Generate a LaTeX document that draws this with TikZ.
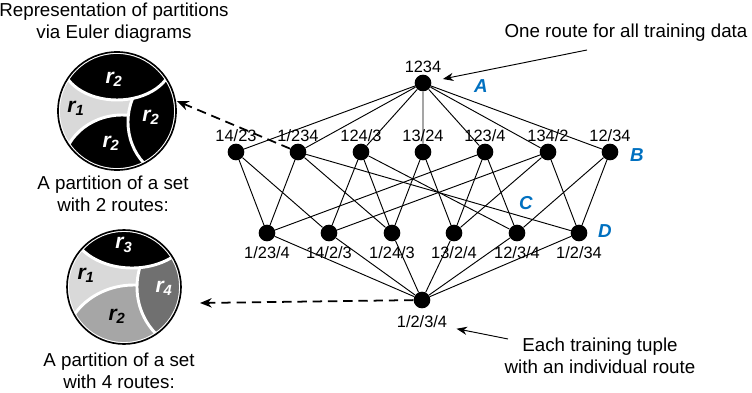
\documentclass[tikz,border=0pt]{standalone}
\usepackage{fontspec}
\setmainfont{Liberation Sans}
\usetikzlibrary{arrows.meta}
\definecolor{letterblue}{RGB}{0,112,192}
\definecolor{lightregion}{RGB}{217,217,217}
\definecolor{midregion}{RGB}{166,166,166}
\definecolor{darkregion}{RGB}{112,112,112}
\newcommand{\rlab}[1]{\bfseries\itshape r\textsubscript{#1}}

\begin{document}
\begin{tikzpicture}
		[	x=0.03cm,y=-0.03cm,
		dot/.style={circle,fill=black,minimum size=0.5cm,inner sep=0pt},
		part/.style={font=\fontsize{14}{16}\selectfont,inner sep=1pt},
		note/.style={font=\fontsize{16}{18.7}\selectfont,align=center},
		letter/.style={font=\fontsize{16}{18}\selectfont\bfseries\itshape,text=letterblue},
		edge/.style={line width=0.8pt},
		pointer/.style={-{Stealth[length=9pt,width=7pt]},line width=0.8pt},
		dashpointer/.style={-{Stealth[length=10pt,width=8pt]},line width=1.5pt,dash pattern=on 8pt off 5pt},
		region/.style={draw=white,line width=2.5pt},
		euler/.style={circle,draw=black,line width=1.4pt,inner sep=0pt},
		rname/.style={font=\fontsize{18}{20}\selectfont}
		]
\useasboundingbox (0,0) rectangle (752,393);

\node[note] (title) at (114,23) {Representation of partitions\\via Euler diagrams};
\node[note] (caption1) at (113,194) {A partition of a set\\with 2 routes:};
\node[note] (caption2) at (119,371) {A partition of a set\\with 4 routes:};
\node[note] (onenote) at (626,33) {One route for all training data};
\node[note] (eachnote) at (600,356) {Each training tuple\\with an individual route};

\begin{scope}[shift={(117,111)}]
	\clip (0,0) circle [radius=59];
	\fill[lightregion] (0,0) circle [radius=59];
	\filldraw[region,fill=black] (5,59) ellipse [x radius=60,y radius=55];
	\filldraw[region,fill=black] (65,11) ellipse [x radius=54,y radius=58];
	\filldraw[region,fill=black] (0,-49) ellipse [x radius=55,y radius=38];
	\draw[white,line width=1.5pt] (0,0) circle [radius=58];
\end{scope}
\node[euler,minimum size=3.54cm] (euler1) at (117,111) {};
\node[rname,text=white] (r2top) at (114,79) {\rlab{2}};
\node[rname] (r1left) at (76,108) {\rlab{1}};
\node[rname,text=white] (r2right) at (151,117) {\rlab{2}};
\node[rname,text=white] (r2low) at (111,143) {\rlab{2}};

\begin{scope}[shift={(124,287)}]
	\clip (0,0) circle [radius=57];
	\fill[lightregion] (0,0) circle [radius=57];
	\filldraw[region,fill=midregion] (10,60) ellipse [x radius=70,y radius=62];
	\filldraw[region,fill=darkregion] (75,0) ellipse [x radius=62,y radius=65];
	\filldraw[region,fill=black] (8,-64) ellipse [x radius=62,y radius=45];
	\draw[white,line width=1.5pt] (0,0) circle [radius=56];
\end{scope}
\node[euler,minimum size=3.42cm] (euler2) at (124,287) {};
\node[rname,text=white] (r3top) at (124,245) {\rlab{3}};
\node[rname] (r1mid) at (86,275) {\rlab{1}};
\node[rname,text=white] (r4right) at (164,288) {\rlab{4}};
\node[rname] (r2low2) at (117,316) {\rlab{2}};

\node[dot,label={[part]above:1234}] (top) at (423,83) {};

\node[dot,label={[part]above:14/23}] (m1) at (236,152) {};
\node[dot,label={[part]above:1/234}] (m2) at (298,152) {};
\node[dot,label={[part]above:124/3}] (m3) at (361,152) {};
\node[dot,label={[part]above:13/24}] (m4) at (423,152) {};
\node[dot,label={[part]above:123/4}] (m5) at (485,152) {};
\node[dot,label={[part]above:134/2}] (m6) at (548,152) {};
\node[dot,label={[part]above:12/34}] (m7) at (610,152) {};

\node[dot,label={[part,label distance=3pt]below:1/23/4}] (l1) at (267,233) {};
\node[dot,label={[part,label distance=3pt]below:14/2/3}] (l2) at (329,233) {};
\node[dot,label={[part,label distance=3pt]below:1/24/3}] (l3) at (392,233) {};
\node[dot,label={[part,label distance=3pt]below:13/2/4}] (l4) at (454,233) {};
\node[dot,label={[part,label distance=3pt]below:12/3/4}] (l5) at (517,233) {};
\node[dot,label={[part,label distance=3pt]below:1/2/34}] (l6) at (579,233) {};

\node[dot,label={[part,label distance=5pt,name=bottomlab]below:1/2/3/4}] (bottom) at (422,300) {};

\draw[edge] (top) -- (m1) (top) -- (m2) (top) -- (m3) (top) -- (m4)
	(top) -- (m5) (top) -- (m6) (top) -- (m7);
\draw[edge] (m1) -- (l1) (m1) -- (l2);
\draw[edge] (m2) -- (l1) (m2) -- (l3) (m2) -- (l6);
\draw[edge] (m3) -- (l2) (m3) -- (l3) (m3) -- (l5);
\draw[edge] (m4) -- (l3) (m4) -- (l4);
\draw[edge] (m5) -- (l1) (m5) -- (l4) (m5) -- (l5);
\draw[edge] (m6) -- (l2) (m6) -- (l4) (m6) -- (l6);
\draw[edge] (m7) -- (l5) (m7) -- (l6);
\draw[edge] (l1) -- (bottom) (l2) -- (bottom) (l3) -- (bottom)
	(l4) -- (bottom) (l5) -- (bottom) (l6) -- (bottom);

\node[letter] (lettera) at (481,86) {A};
\node[letter] (letterb) at (637,155) {B};
\node[letter] (letterc) at (526,203) {C};
\node[letter] (letterd) at (605,231) {D};

\coordinate (onetail) at (587,50);
\coordinate (eachtail) at (508,339);
\coordinate (euler2tip) at (200,303);
\draw[pointer,shorten >=10pt] (onetail) -- (top);
\draw[pointer,shorten >=7pt] (eachtail) -- (bottomlab);
\draw[dashpointer,shorten >=1pt] (m2) -- (euler1.10);
\draw[dashpointer] (bottom) -- (euler2tip);
\end{tikzpicture}
\end{document}
